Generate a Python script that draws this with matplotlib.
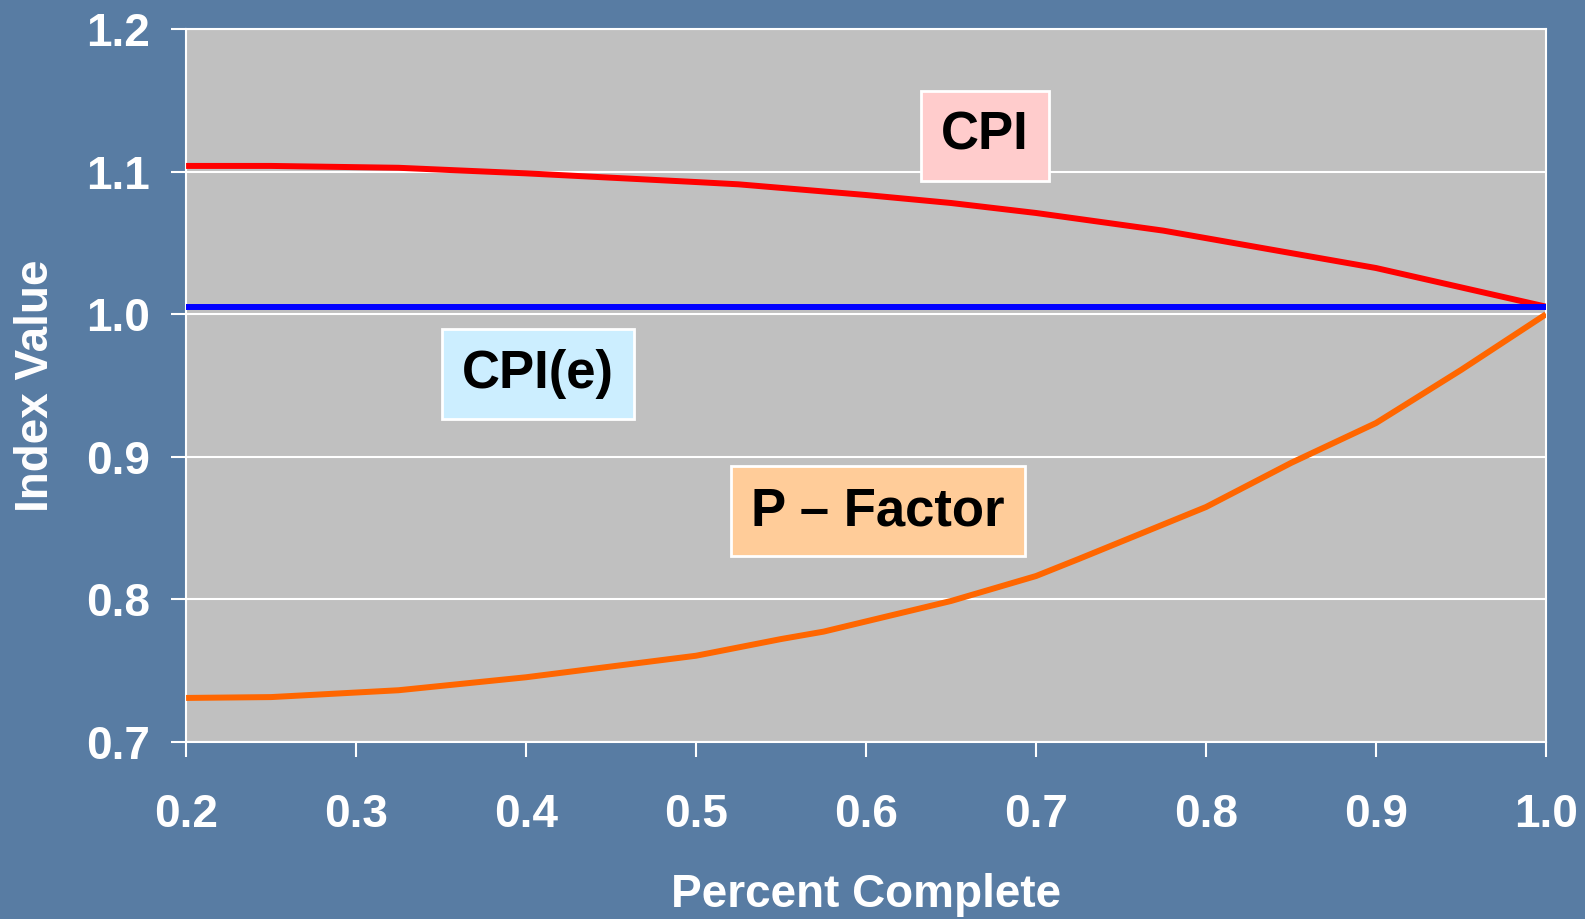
import matplotlib
matplotlib.use("Agg")
import matplotlib.pyplot as plt

plt.rcParams['font.family'] = ['Liberation Sans', 'DejaVu Sans']

# values
cpi_x = [0.2, 0.25, 0.325, 0.4, 0.5, 0.525, 0.6, 0.65, 0.7, 0.775, 0.9, 1.0]
cpi_y = [1.104, 1.104, 1.1027, 1.0988, 1.0927, 1.0911, 1.0836, 1.078, 1.071, 1.0586, 1.0324, 1.0053]

cpie_x = [0.2, 1.0]
cpie_y = [1.005, 1.005]

pf_x = [0.2, 0.25, 0.325, 0.4, 0.5, 0.55, 0.575, 0.65, 0.7, 0.725, 0.8, 0.85, 0.9, 0.95, 1.0]
pf_y = [0.7309, 0.7315, 0.7363, 0.7454, 0.7605, 0.7722, 0.7774, 0.7989, 0.8164, 0.8283,
        0.8648, 0.8957, 0.9237, 0.9609, 1.0]

x_ticks = [0.2, 0.3, 0.4, 0.5, 0.6, 0.7, 0.8, 0.9, 1.0]
y_ticks = [0.7, 0.8, 0.9, 1.0, 1.1, 1.2]

bg = '#587ca3'

fig = plt.figure(figsize=(15.85, 9.19), dpi=100, facecolor=bg)
ax = fig.add_axes([0.1174, 0.1926, 0.858, 0.7758])
ax.set_facecolor('#c0c0c0')

ax.plot(cpi_x, cpi_y, color='#ff0000', lw=4.3, zorder=3, solid_capstyle='butt')
ax.plot(cpie_x, cpie_y, color='#0000ff', lw=4.3, zorder=3, solid_capstyle='butt')
ax.plot(pf_x, pf_y, color='#ff6600', lw=4.3, zorder=3, solid_capstyle='butt')

ax.set_xlim(0.2, 1.0)
ax.set_ylim(0.7, 1.2)
ax.set_xticks(x_ticks)
ax.set_yticks(y_ticks)
ax.set_xticklabels(['%.1f' % v for v in x_ticks])
ax.set_yticklabels(['%.1f' % v for v in y_ticks])
ax.yaxis.grid(True, color='white', lw=1.5, zorder=1)
ax.set_axisbelow(True)

for s in ax.spines.values():
    s.set_color('white')
    s.set_linewidth(1.5)

ax.tick_params(axis='both', direction='out', colors='white', length=11, width=1.5,
               labelsize=33)
ax.tick_params(axis='x', pad=26)
ax.tick_params(axis='y', pad=15)
for lab in ax.get_xticklabels() + ax.get_yticklabels():
    lab.set_fontweight('bold')

ax.set_xlabel('Percent Complete', fontsize=33, fontweight='bold', color='white')
ax.set_ylabel('Index Value', fontsize=33, fontweight='bold', color='white')
ax.xaxis.set_label_coords(0.5, -0.184)
ax.yaxis.set_label_coords(-0.094, 0.5)

# label boxes
box_kw = dict(fontsize=38, fontweight='bold', color='black', ha='center', va='center', zorder=5)
ax.text(0.670, 1.125, 'CPI', bbox=dict(boxstyle='square,pad=0.38', fc='#ffcccc', ec='white', lw=2),
        **box_kw)
ax.text(0.407, 0.958, 'CPI(e)', bbox=dict(boxstyle='square,pad=0.38', fc='#cceeff', ec='white', lw=2),
        **box_kw)
ax.text(0.607, 0.862, 'P \u2013 Factor', bbox=dict(boxstyle='square,pad=0.38', fc='#ffcc99', ec='white', lw=2),
        **box_kw)

fig.savefig('out.png', dpi=100, facecolor=bg)
